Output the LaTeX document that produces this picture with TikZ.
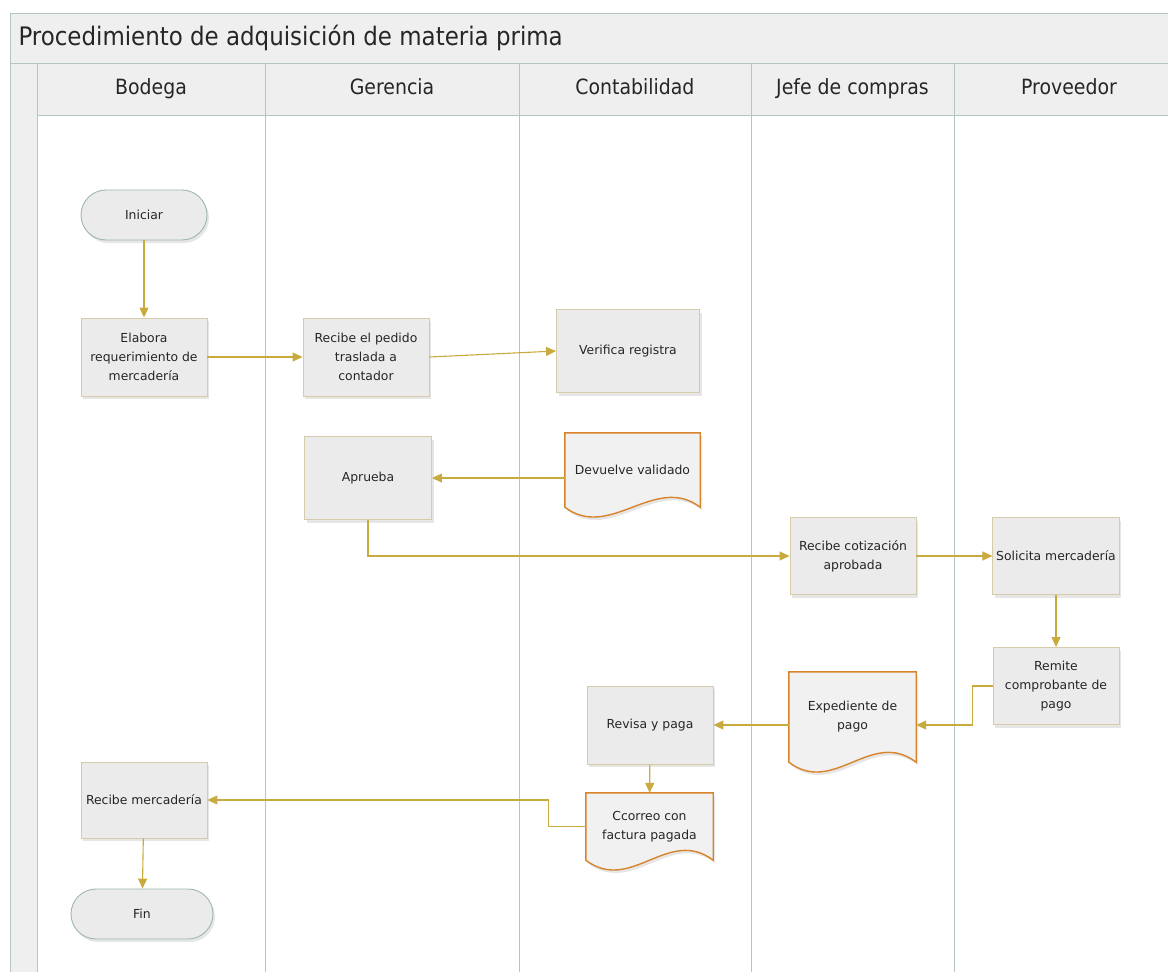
\documentclass[tikz,border=0pt]{standalone}
\usepackage{fontspec}
\setmainfont{DejaVu Sans}
\newfontfamily\condfont{DejaVu Sans Condensed}
\usetikzlibrary{arrows.meta,shadows}
\pgfdeclarelayer{back}
\pgfsetlayers{back,main}
\definecolor{lanegray}{HTML}{B4C6C1}
\definecolor{bandfill}{HTML}{EFEFEF}
\definecolor{boxfill}{HTML}{EBEBEB}
\definecolor{boxline}{HTML}{D4CCAA}
\definecolor{termline}{HTML}{9FB6AF}
\definecolor{docorange}{HTML}{D8842C}
\definecolor{docfill}{HTML}{F1F1F1}
\definecolor{flowgold}{HTML}{C9AA3E}
\definecolor{inktext}{HTML}{262626}
\newcommand{\boxfont}{\fontsize{12.4}{19}\selectfont}
\newcommand{\headfont}{\condfont\fontsize{21}{25}\selectfont}
\newcommand{\titlefont}{\condfont\fontsize{25.5}{30}\selectfont}
% wavy document outline behind a named node
\newcommand{\docshape}[1]{%
	\begin{pgfonlayer}{back}
		\draw[docline] (#1.north west) -- (#1.north east) -- (#1.south east)
			.. controls +(-45,-34) and +(45,34) .. (#1.south west) -- cycle;
	\end{pgfonlayer}}

\begin{document}
\begin{tikzpicture}[x=1pt,y=-1pt,
		lane/.style={draw=lanegray,line width=1pt},
		lanehead/.style={rectangle,draw=lanegray,fill=bandfill,line width=1pt,minimum height=52pt,text height=15pt,text depth=5pt,font=\headfont,text=inktext},
		stepbox/.style={rectangle,draw=boxline,fill=boxfill,line width=0.9pt,minimum width=126pt,minimum height=78pt,align=center,font=\boxfont,text=inktext,drop shadow={opacity=0.2,shadow xshift=2pt,shadow yshift=-3pt}},
		termbox/.style={stepbox,draw=termline,rounded corners=25pt,minimum height=50pt},
		docbox/.style={rectangle,inner sep=0pt,align=center,font=\boxfont,text=inktext},
		docline/.style={draw=docorange,fill=docfill,line width=1.4pt,drop shadow={opacity=0.2,shadow xshift=2pt,shadow yshift=-3pt}},
		flow/.style={draw=flowgold,line width=1.1pt,-{Triangle[length=10pt,width=9pt]}}]
	\useasboundingbox (0,0) rectangle (1168,972);

	% pool frame
	\fill[bandfill] (10,13) rectangle (1168,63);
	\fill[bandfill] (10,63) rectangle (37,972);
	\draw[lane] (1168,13) -- (10,13) -- (10,972);
	\draw[lane] (10,63) -- (1168,63);
	\node[anchor=west,font=\titlefont,text=inktext] (title) at (15,38) {Procedimiento de adquisición de materia prima};

	% lanes
	\foreach \x in {37,265,519,751,954}
		\draw[lane] (\x,63) -- (\x,972);
	\node[lanehead,minimum width=228pt] (hbod) at (151,89) {Bodega};
	\node[lanehead,minimum width=254pt] (hger) at (392,89) {Gerencia};
	\node[lanehead,minimum width=232pt] (hcon) at (635,89) {Contabilidad};
	\node[lanehead,minimum width=203pt] (hjef) at (852.5,89) {Jefe de compras};
	\node[lanehead,minimum width=230pt] (hpro) at (1069,89) {Proveedor};

	% steps
	\node[termbox] (ini) at (144,215) {Iniciar};
	\node[stepbox] (elab) at (144,357) {Elabora\\requerimiento de\\mercadería};
	\node[stepbox] (pedido) at (366,357) {Recibe el pedido\\traslada a\\contador};
	\node[stepbox,minimum width=143pt,minimum height=83pt] (verif) at (628,351) {Verifica registra};
	\node[stepbox,minimum width=127pt,minimum height=83pt] (aprueba) at (368,478) {Aprueba};
	\node[docbox,minimum width=135pt,minimum height=74pt] (devuelve) at (632.5,470) {Devuelve validado};
	\docshape{devuelve}
	\node[stepbox,minimum height=77pt] (cotiz) at (853,556) {Recibe cotización\\aprobada};
	\node[stepbox,minimum height=77pt] (solic) at (1056,556) {Solicita mercadería};
	\node[stepbox,minimum height=77pt] (remite) at (1056,686) {Remite\\comprobante de\\pago};
	\node[docbox,minimum width=127pt,minimum height=90pt] (exped) at (852.5,717) {Expediente de\\pago};
	\docshape{exped}
	\node[stepbox] (revisa) at (650,725) {Revisa y paga};
	\node[docbox,minimum width=127pt,minimum height=67pt] (correo) at (649.5,826.5) {Ccorreo con\\factura pagada};
	\docshape{correo}
	\node[stepbox,minimum height=76pt] (recmerc) at (144,800) {Recibe mercadería};
	\node[termbox,minimum width=142pt] (fin) at (142,914) {Fin};

	% flows
	\draw[flow] (ini) -- (elab);
	\draw[flow] (elab) -- (pedido);
	\draw[flow] (pedido.east) -- (verif.west);
	\draw[flow] (devuelve.west |- aprueba.east) -- (aprueba.east);
	\draw[flow] (aprueba.south) |- (cotiz.west);
	\draw[flow] (cotiz) -- (solic);
	\draw[flow] (solic) -- (remite);
	\draw[flow] (remite.west) -- ++(-20,0) |- (exped.east |- revisa.east);
	\draw[flow] (exped.west |- revisa.east) -- (revisa.east);
	\draw[flow] (revisa) -- (correo);
	\draw[flow] (correo.west) -- ++(-37,0) |- (recmerc.east);
	\draw[flow] (recmerc) -- (fin);
\end{tikzpicture}
\end{document}
